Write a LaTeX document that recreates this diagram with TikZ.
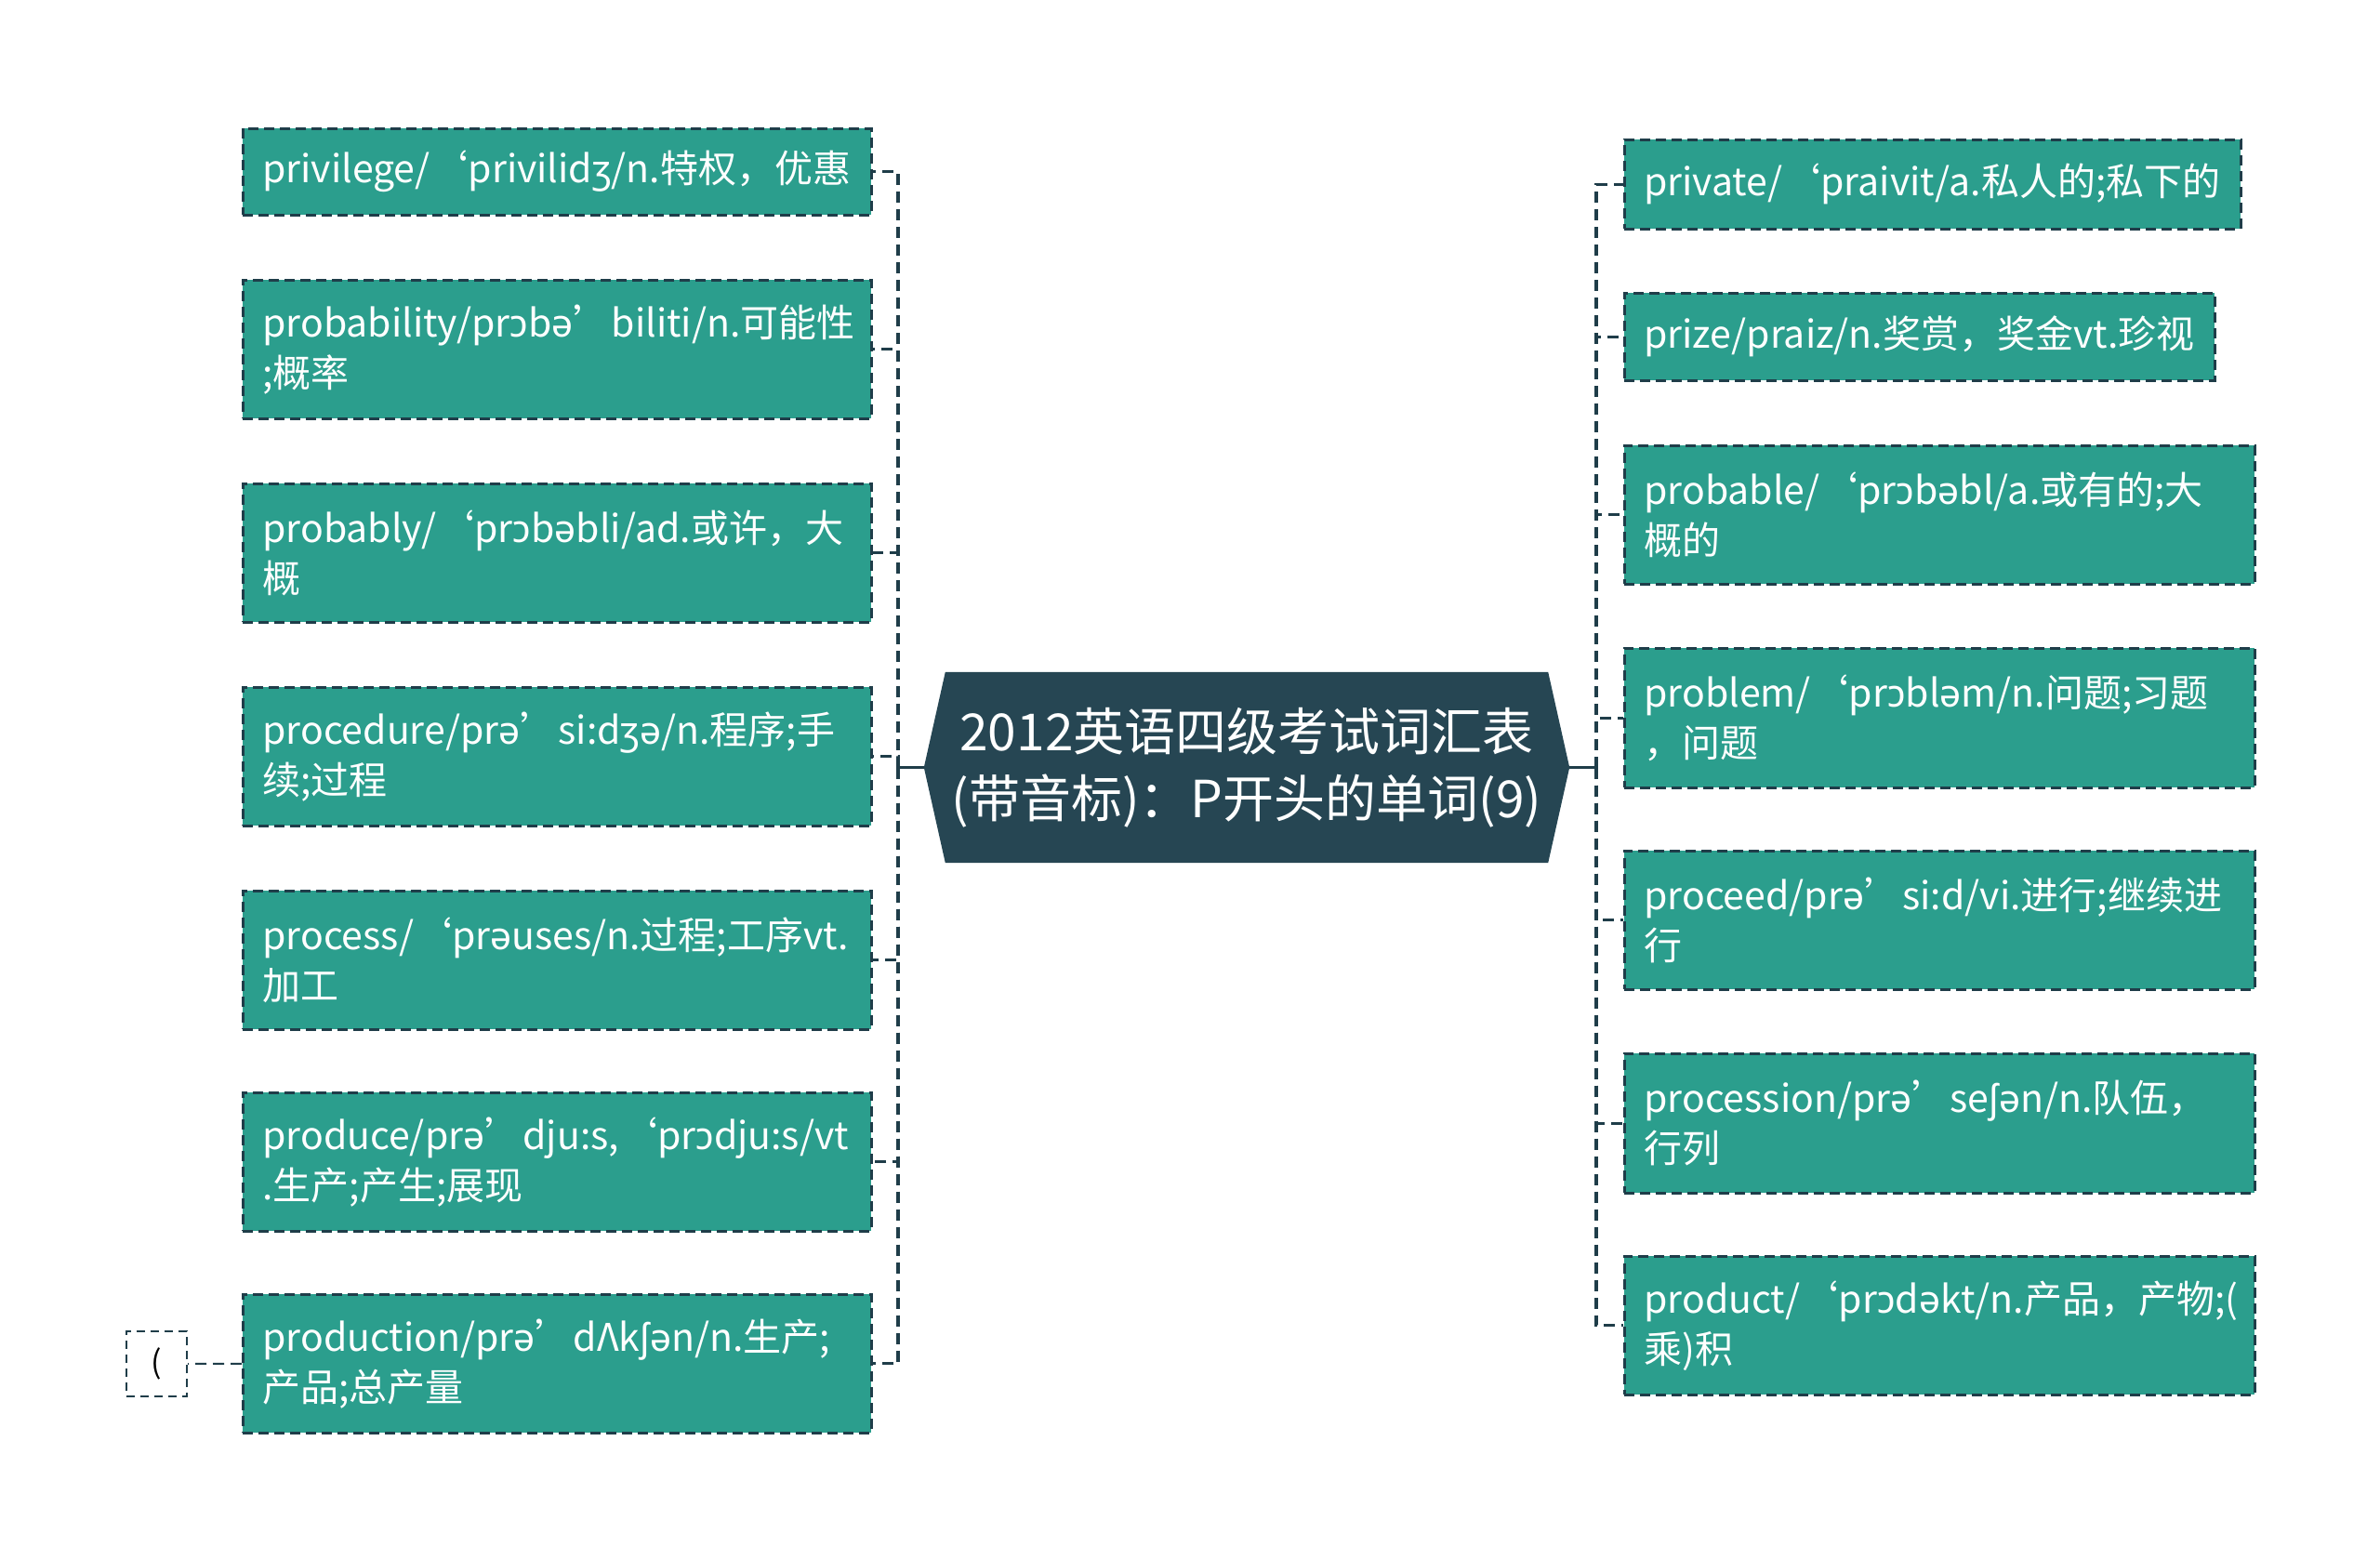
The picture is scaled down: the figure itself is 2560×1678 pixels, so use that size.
\documentclass[tikz,border=0pt]{standalone}
\usepackage{fontspec}
\setmainfont{Noto Sans CJK SC}
\newfontfamily\ipa{Noto Sans}
\usetikzlibrary{backgrounds}
\definecolor{leaffill}{HTML}{2B9E8D}
\definecolor{linec}{HTML}{1F3D49}
\definecolor{centerfill}{HTML}{264653}
\newcommand{\Io}{{\ipa ɔ}}
\newcommand{\Ie}{{\ipa ə}}
\newcommand{\Ish}{{\ipa ʃ}}
\newcommand{\Izh}{{\ipa ʒ}}
\tikzset{
  leafbox/.style={draw=linec, line width=2.5pt, dash pattern=on 11pt off 6pt, fill=leaffill, text=white,
    anchor=north west, inner xsep=21pt, inner ysep=0pt, align=left,
    font=\fontsize{41}{54}\selectfont},
  conn/.style={draw=linec, line width=3.2pt, dash pattern=on 12pt off 7pt},
  stub/.style={draw=linec, line width=3.2pt},
}
\newcommand{\leaf}[7]{% name, x, y, w, h, textwidth, text
  \node[leafbox, minimum width=#4pt, minimum height=#5pt, text width=#6pt] (#1) at (#2,#3) {#7};}
\begin{document}
\begin{tikzpicture}[x=1pt,y=-1pt]
\useasboundingbox (0,0) rectangle (2560,1678);
\coordinate (trunkL) at (966,0);
\coordinate (trunkR) at (1717,0);
% center
\node[minimum width=694pt, minimum height=205pt, inner sep=0pt, text=white, align=center,
  font=\fontsize{55}{72}\selectfont] (ctr) at (1341,825.5)
  {2012英语四级考试词汇表\\(带音标)：P开头的单词(9)};
\begin{scope}[on background layer]
\fill[centerfill] ([xshift=23pt]ctr.north west) -- ([xshift=-23pt]ctr.north east) -- (ctr.east)
  -- ([xshift=-23pt]ctr.south east) -- ([xshift=23pt]ctr.south west) -- (ctr.west) -- cycle;
\end{scope}
% left leaves
\leaf{L1}{260}{137}{676}{93}{634}{privilege/‘privilid\Izh/n.特权，优惠}
\leaf{L2}{260}{300}{676}{149}{634}{probability/pr\Io b\Ie’biliti/n.可能性\\;概率}
\leaf{L3}{260}{519}{676}{149}{634}{probably/‘pr\Io b\Ie bli/ad.或许，大\\概}
\leaf{L4}{260}{738}{676}{149}{634}{procedure/pr\Ie’si:d\Izh\Ie/n.程序;手\\续;过程}
\leaf{L5}{260}{957}{676}{149}{634}{process/‘pr\Ie uses/n.过程;工序vt.\\加工}
\leaf{L6}{260}{1174}{676}{149}{634}{produce/pr\Ie’dju:s,‘pr\Io dju:s/vt\\.生产;产生;展现}
\leaf{L7}{260}{1391}{676}{149}{634}{production/pr\Ie’dΛk\Ish\Ie n/n.生产;\\产品;总产量}
% right leaves
\leaf{R1}{1746}{149}{663}{96}{621}{private/‘praivit/a.私人的;私下的}
\leaf{R2}{1746}{314}{635}{94}{593}{prize/praiz/n.奖赏，奖金vt.珍视}
\leaf{R3}{1746}{478}{678}{149}{636}{probable/‘pr\Io b\Ie bl/a.或有的;大\\概的}
\leaf{R4}{1746}{696}{678}{150}{636}{problem/‘pr\Io bl\Ie m/n.问题;习题\\，问题}
\leaf{R5}{1746}{914}{678}{149}{636}{proceed/pr\Ie’si:d/vi.进行;继续进\\行}
\leaf{R6}{1746}{1132}{678}{150}{636}{procession/pr\Ie’se\Ish\Ie n/n.队伍，\\行列}
\leaf{R7}{1746}{1350}{678}{149}{636}{product/‘pr\Io d\Ie kt/n.产品，产物;(\\乘)积}
% small sub node
\node[draw=linec, line width=2pt, dash pattern=on 9pt off 6pt, minimum width=65pt, minimum height=70pt,
  inner sep=0pt, font=\fontsize{34}{40}\selectfont] (sub) at (168.5,1467) {(};
% connectors
\draw[stub] (ctr.west) -- (ctr.west -| trunkL);
\draw[stub] (ctr.east) -- (ctr.east -| trunkR);
\foreach \n in {L1,L2,L3,L4,L5,L6,L7}{
  \draw[conn] (ctr.west -| trunkL) |- (\n.east);
}
\foreach \n in {R1,R2,R3,R4,R5,R6,R7}{
  \draw[conn] (ctr.east -| trunkR) |- (\n.west);
}
\draw[conn, line width=2pt] (L7.west) -- (sub.east);
\end{tikzpicture}
\end{document}
